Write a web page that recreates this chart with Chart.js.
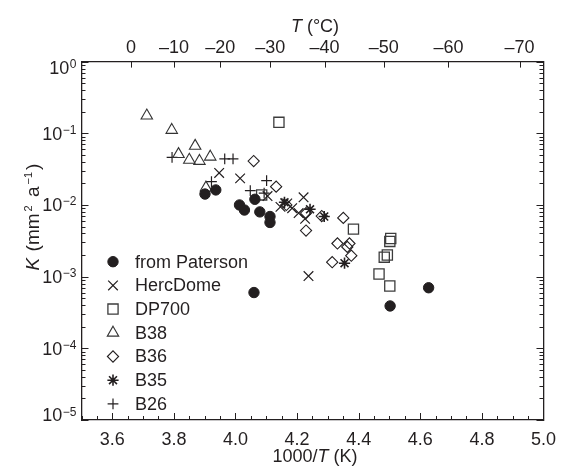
<!DOCTYPE html>
<html lang="en">
<head>
<meta charset="UTF-8">
<title>K vs 1000/T</title>
<script src="https://cdn.jsdelivr.net/npm/chart.js"></script>
<style>
  html, body { margin: 0; padding: 0; background: #fff; }
  #wrap { width: 565px; height: 466px; }
</style>
</head>
<body>
<div id="wrap"><canvas id="kChart" width="565" height="466"></canvas></div>
<script>
// values (x = 1000/T in K^-1, K in mm^2 a^-1)
const patersonX = [3.901, 3.936, 4.013, 4.029, 4.063, 4.079, 4.112, 4.112, 4.06, 4.502, 4.627];
const patersonK = [0.0142, 0.0162, 0.0100, 0.0085, 0.0120, 0.0080, 0.0069, 0.0057, 0.0006, 0.00039, 0.00070];

const hercX = [3.947, 4.015, 4.104, 4.146, 4.168, 4.184, 4.205, 4.221, 4.226, 4.237];
const hercK = [0.028, 0.0235, 0.0133, 0.0094, 0.0105, 0.0090, 0.0077, 0.0128, 0.0064, 0.00102];

const dp700X = [4.085, 4.141, 4.383, 4.504, 4.501, 4.493, 4.483, 4.466, 4.501];
const dp700K = [0.0138, 0.142, 0.0046, 0.0034, 0.0031, 0.0020, 0.00187, 0.00109, 0.00074];

const b38X = [3.712, 3.793, 3.869, 3.815, 3.850, 3.883, 3.918, 3.904];
const b38K = [0.176, 0.111, 0.0665, 0.051, 0.0425, 0.041, 0.047, 0.0174];

const b36X = [4.059, 4.132, 4.165, 4.229, 4.229, 4.280, 4.350, 4.331, 4.363, 4.370, 4.376, 4.314];
const b36K = [0.041, 0.018, 0.010, 0.0077, 0.0044, 0.0070, 0.0066, 0.0029, 0.0026, 0.0029, 0.00196, 0.00159];

const b35X = [4.159, 4.242, 4.288, 4.354];
const b35K = [0.0109, 0.0087, 0.0069, 0.00154];

const b26X = [3.794, 3.922, 3.965, 3.992, 4.048, 4.093, 4.101];
const b26K = [0.046, 0.0211, 0.044, 0.044, 0.0158, 0.0146, 0.0218];

// axis labels
const xTicks = [3.6, 3.8, 4.0, 4.2, 4.4, 4.6, 4.8, 5.0];
const tempTicks = [0, -10, -20, -30, -40, -50, -60, -70];
const yDecades = [0, -1, -2, -3, -4, -5];

const ink = '#231f20';
const FONT = '"Liberation Sans", Arial, Helvetica, sans-serif';

function pts(xs, ks) {
  return xs.map((x, i) => ({ x: x, y: ks[i] }));
}

const series = [
  { label: 'from Paterson', data: pts(patersonX, patersonK), style: 'circle', r: 5.2, fill: ink, color: ink, lw: 1 },
  { label: 'HercDome', data: pts(hercX, hercK), style: 'crossRot', r: 6.8, fill: 'rgba(0,0,0,0)', color: ink, lw: 1.2 },
  { label: 'DP700', data: pts(dp700X, dp700K), style: 'rect', r: 7.2, fill: 'rgba(0,0,0,0)', color: '#3c3c3c', lw: 1.3 },
  { label: 'B38', data: pts(b38X, b38K), style: 'triangle', r: 6.6, fill: 'rgba(0,0,0,0)', color: '#333', lw: 1.1 },
  { label: 'B36', data: pts(b36X, b36K), style: 'rectRot', r: 5.6, fill: 'rgba(0,0,0,0)', color: ink, lw: 1.1 },
  { label: 'B35', data: pts(b35X, b35K), style: 'star', r: 5.6, fill: 'rgba(0,0,0,0)', color: ink, lw: 1.6 },
  { label: 'B26', data: pts(b26X, b26K), style: 'cross', r: 5.4, fill: 'rgba(0,0,0,0)', color: ink, lw: 1.2 }
];

const datasets = series.map(s => ({
  label: s.label,
  data: s.data,
  pointStyle: s.style,
  pointRadius: s.r,
  pointHoverRadius: s.r,
  pointBackgroundColor: s.fill,
  pointBorderColor: s.color,
  pointBorderWidth: s.lw,
  showLine: false
}));

// draws a row of text pieces with mixed fonts, centred on cx
function drawRuns(ctx, runs, cx, baseY) {
  let total = 0;
  runs.forEach(r => { ctx.font = r.font; r.w = ctx.measureText(r.t).width + (r.gap || 0); total += r.w; });
  let x = cx - total / 2;
  runs.forEach(r => {
    ctx.font = r.font;
    ctx.fillText(r.t, x, baseY + (r.dy || 0));
    x += r.w;
  });
}

const frame = {
  id: 'frame',
  afterDraw(chart) {
    const ctx = chart.ctx;
    const x = chart.scales.x, x2 = chart.scales.x2, y = chart.scales.y;
    const a = chart.chartArea;
    ctx.save();
    ctx.strokeStyle = ink;
    ctx.fillStyle = ink;
    ctx.lineWidth = 1;

    // inward ticks, bottom
    ctx.beginPath();
    for (let i = 0; i <= 30; i++) {
      const v = 3.5 + i * 0.05;
      const px = Math.round(x.getPixelForValue(v)) + 0.5;
      const len = ((i - 2) % 4 === 0) ? 7 : 4;
      ctx.moveTo(px, a.bottom);
      ctx.lineTo(px, a.bottom - len);
    }
    // top, at the temperature labels
    x2.ticks.forEach(t => {
      const px = Math.round(x2.getPixelForValue(t.value)) + 0.5;
      ctx.moveTo(px, a.top);
      ctx.lineTo(px, a.top + 6);
    });
    // left and right, log ticks
    for (let d = -5; d <= 0; d++) {
      for (let m = 1; m <= 9; m++) {
        const v = m * Math.pow(10, d);
        if (v > 1.0000001) break;
        const py = Math.round(y.getPixelForValue(v)) + 0.5;
        const len = m === 1 ? 7 : 4;
        ctx.moveTo(a.left, py); ctx.lineTo(a.left + len, py);
        ctx.moveTo(a.right, py); ctx.lineTo(a.right - len, py);
      }
    }
    ctx.stroke();

    // y tick labels 10^n
    ctx.textBaseline = 'alphabetic';
    ctx.textAlign = 'right';
    yDecades.forEach((d, i) => {
      let c = y.getPixelForValue(Math.pow(10, d));
      if (i === 0) c += 6;
      if (i === yDecades.length - 1) c -= 5;
      const exp = d === 0 ? '0' : '\u2212' + Math.abs(d);
      ctx.font = '12px ' + FONT;
      const ew = ctx.measureText(exp).width;
      ctx.fillText(exp, 76.5, c + 0.5);
      ctx.font = '18px ' + FONT;
      ctx.fillText('10', 76.5 - ew - 0.5, c + 6.4);
    });

    // axis titles
    ctx.textAlign = 'left';
    drawRuns(ctx, [
      { t: 'T', font: 'italic 18px ' + FONT },
      { t: ' (\u00B0C)', font: '18px ' + FONT }
    ], 315, 31.5);
    drawRuns(ctx, [
      { t: '1000/', font: '18px ' + FONT },
      { t: 'T', font: 'italic 18px ' + FONT },
      { t: ' (K)', font: '18px ' + FONT }
    ], 315, 462);
    ctx.save();
    ctx.translate(32, 217);
    ctx.rotate(-Math.PI / 2);
    drawRuns(ctx, [
      { t: 'K', font: 'italic 19px ' + FONT, gap: 1 },
      { t: ' (mm', font: '19px ' + FONT, gap: 2 },
      { t: '2', font: '11px ' + FONT, dy: -7, gap: 3 },
      { t: ' a', font: '19px ' + FONT, gap: 2 },
      { t: '\u22121', font: '11px ' + FONT, dy: -7, gap: 2 },
      { t: ')', font: '19px ' + FONT }
    ], 0, 6.8);
    ctx.restore();

    // legend inside the plot
    const draw = Chart.helpers && Chart.helpers.drawPoint;
    series.forEach((s, i) => {
      const ly = 261.7 + i * 23.7;
      ctx.fillStyle = s.fill;
      ctx.strokeStyle = s.color;
      ctx.lineWidth = s.lw;
      if (draw) draw(ctx, { pointStyle: s.style, radius: s.r, rotation: 0, borderWidth: s.lw }, 113, ly);
      ctx.fillStyle = ink;
      ctx.font = '18px ' + FONT;
      ctx.textBaseline = 'middle';
      ctx.fillText(s.label, 135, ly + 1);
    });
    ctx.restore();
  }
};

new Chart(document.getElementById('kChart'), {
  type: 'scatter',
  data: { datasets: datasets },
  options: {
    responsive: false,
    animation: false,
    events: [],
    layout: { padding: 0 },
    plugins: { legend: { display: false }, tooltip: { enabled: false } },
    scales: {
      x: {
        type: 'linear', position: 'bottom', min: 3.5, max: 5.0,
        afterBuildTicks: s => { s.ticks = xTicks.map(v => ({ value: v })); },
        afterFit: s => { s.height = 46; },
        ticks: {
          autoSkip: false, maxRotation: 0, padding: 9, color: ink,
          font: { family: FONT, size: 18 },
          callback: v => Number(v).toFixed(1)
        },
        grid: { display: false, drawTicks: false },
        border: { display: true, color: ink, width: 1.3 }
      },
      x2: {
        type: 'linear', position: 'top', min: 3.5, max: 5.0,
        afterBuildTicks: s => { s.ticks = tempTicks.map(t => ({ value: 1000 / (t + 273.15) })); },
        afterFit: s => { s.height = 61.6; },
        ticks: {
          autoSkip: false, maxRotation: 0, padding: 3, color: ink,
          font: { family: FONT, size: 18 },
          callback: (v, i) => {
            const t = tempTicks[i];
            return t === 0 ? '0' : '\u2013' + Math.abs(t);
          }
        },
        grid: { display: false, drawTicks: false },
        border: { display: true, color: ink, width: 1.3 }
      },
      y: {
        type: 'logarithmic', position: 'left', min: 1e-5, max: 1,
        afterFit: s => { s.width = 81.5; },
        ticks: { display: false },
        grid: { display: false, drawTicks: false },
        border: { display: true, color: ink, width: 1.3 }
      },
      y2: {
        type: 'logarithmic', position: 'right', min: 1e-5, max: 1,
        afterFit: s => { s.width = 15; },
        ticks: { display: false },
        grid: { display: false, drawTicks: false },
        border: { display: true, color: ink, width: 1.3 }
      }
    }
  },
  plugins: [frame]
});
</script>
</body>
</html>
